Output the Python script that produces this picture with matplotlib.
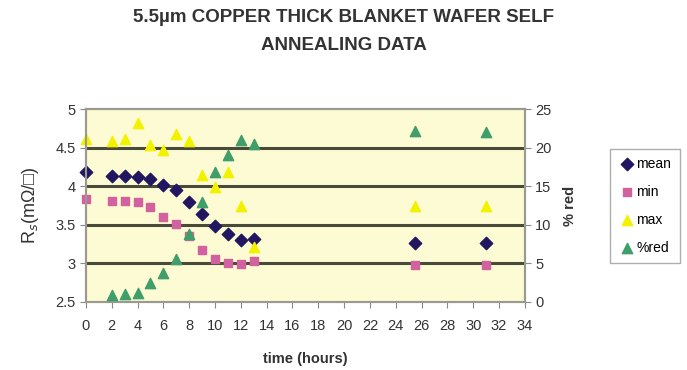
import matplotlib.pyplot as plt
import numpy as np

plt.rcParams['font.family'] = ['Liberation Sans', 'DejaVu Sans']

# annealing time (hours)
t = [0, 2, 3, 4, 5, 6, 7, 8, 9, 10, 11, 12, 13, 25.5, 31]
r_mean = [4.18, 4.13, 4.13, 4.12, 4.09, 4.02, 3.95, 3.80, 3.64, 3.48, 3.38, 3.30, 3.32, 3.26, 3.27]
r_min = [3.84, 3.81, 3.81, 3.79, 3.73, 3.60, 3.51, 3.36, 3.17, 3.06, 3.01, 2.99, 3.03, 2.98, 2.98]
r_max = [4.61, 4.59, 4.61, 4.82, 4.53, 4.47, 4.68, 4.59, 4.15, 3.99, 4.19, 3.74, 3.21, 3.74, 3.75]
# percent reduction (right axis), no point at t=0
t_red = [2, 3, 4, 5, 6, 7, 8, 9, 10, 11, 12, 13, 25.5, 31]
pct_red = [0.9, 1.0, 1.1, 2.4, 3.8, 5.6, 8.8, 12.9, 16.8, 19.1, 21.0, 20.5, 22.2, 22.0]

fig = plt.figure(figsize=(6.87, 3.70), dpi=100)
ax = fig.add_axes([0.125, 0.184, 0.639, 0.521])
ax.set_facecolor('#fdfbd3')
ax2 = ax.twinx()

for y in [3.0, 3.5, 4.0, 4.5]:
    ax.axhline(y, color='#4a4a3a', lw=2.2, zorder=1)

ax.scatter(t, r_mean, marker='D', s=40, color='#221660', label='mean', zorder=3, clip_on=False)
ax.scatter(t, r_min, marker='s', s=40, color='#d2619f', label='min', zorder=3, clip_on=False)
ax.scatter(t, r_max, marker='^', s=55, color='#f2f200', label='max', zorder=3, clip_on=False)
ax2.scatter(t_red, pct_red, marker='^', s=55, color='#3f9e6a', label='%red', zorder=4, clip_on=False)

ax.set_xlim(0, 34)
ax.set_ylim(2.5, 5)
ax2.set_ylim(0, 25)
ax.set_xticks(np.arange(0, 35, 2))
ax.set_yticks([2.5, 3, 3.5, 4, 4.5, 5])
ax.set_yticklabels(['2.5', '3', '3.5', '4', '4.5', '5'])
ax2.set_yticks([0, 5, 10, 15, 20, 25])

for a in (ax, ax2):
    a.tick_params(colors='#8a8a80', labelcolor='#333333', labelsize=10.5, length=4)
    for s in a.spines.values():
        s.set_color('#9a9a90')
        s.set_linewidth(1.5)
ax.tick_params(axis='x', pad=8)

ax.set_ylabel('R$_s$(m\u03a9/\u25a1)', fontsize=13, color='#333333', labelpad=10)
ax2.set_ylabel('% red', fontsize=10.5, fontweight='bold', color='#333333', rotation=90, labelpad=8)
ax.set_xlabel('time (hours)', fontsize=10.5, fontweight='bold', color='#333333', labelpad=14)

fig.suptitle('5.5\u00b5m COPPER THICK BLANKET WAFER SELF\nANNEALING DATA',
             fontsize=13.5, fontweight='bold', color='#333333', y=0.975, linespacing=1.85)

h1, l1 = ax.get_legend_handles_labels()
h2, l2 = ax2.get_legend_handles_labels()
leg = fig.legend(h1 + h2, l1 + l2, loc='upper left', bbox_to_anchor=(0.888, 0.598),
                 fontsize=10, frameon=True, fancybox=False, edgecolor='#999999',
                 handletextpad=0.1, borderpad=0.6, labelspacing=1.0, handlelength=1.2,
                 borderaxespad=0)

fig.savefig('out.png', dpi=100)
